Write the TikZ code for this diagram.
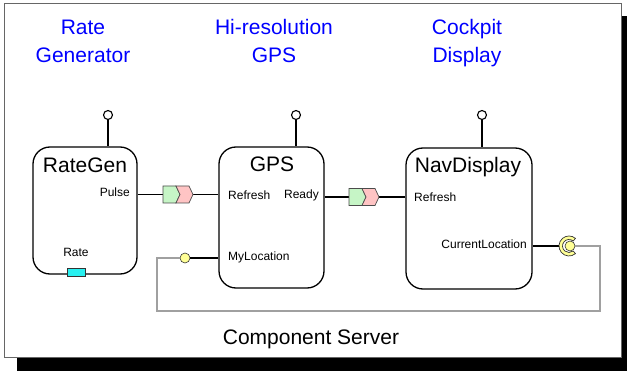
\documentclass[tikz,border=0pt]{standalone}
\usepackage{fontspec}
\setmainfont{Liberation Sans}
\usetikzlibrary{calc}
\definecolor{tblue}{RGB}{0,0,255}
\definecolor{chgreen}{RGB}{198,245,198}
\definecolor{chpink}{RGB}{255,196,196}
\definecolor{portcyan}{RGB}{40,240,240}
\definecolor{pyellow}{RGB}{255,255,150}
\definecolor{wiregray}{RGB}{160,160,160}
\begin{document}
\begin{tikzpicture}[x=1pt,y=-1pt,
  comp/.style={draw, line width=1.3pt, rounded corners=17pt, inner sep=0pt},
  big/.style={font=\fontsize{21}{28}\selectfont, inner sep=0pt},
  ttl/.style={big, text=tblue, align=center},
  small/.style={font=\fontsize{12}{14}\selectfont, inner sep=0pt},
  lolly/.style={circle, draw, line width=1.1pt, fill=white, minimum size=9pt, inner sep=0pt},
  ball/.style={circle, draw=black!80, line width=0.6pt, fill=pyellow, minimum size=10pt, inner sep=0pt},
  conn/.style={line width=1.3pt},
  wire/.style={line width=2.6pt, draw=wiregray},
  chev/.pic={
    \draw[fill=chgreen, draw=black!70, line width=0.7pt] (0,-8.5) -- (13,-8.5) -- (17,0) -- (13,8.5) -- (0,8.5) -- cycle;
    \draw[fill=chpink, draw=black!70, line width=0.7pt] (13,-8.5) -- (26,-8.5) -- (30,0) -- (26,8.5) -- (13,8.5) -- (17,0) -- cycle;
  }]
\useasboundingbox (0,0) rectangle (627,371);
% frame with shadow
\fill[black] (17,16) rectangle (640,380);
\draw[fill=white, draw=black!60, line width=0.9pt] (4,3) rectangle (621,357);

% titles
\node[ttl, anchor=base] (t1) at (83,63) {Rate\\Generator};
\node[ttl, anchor=base] (t2) at (274,63) {Hi-resolution\\GPS};
\node[ttl, anchor=base] (t3) at (467,63) {Cockpit\\Display};

% components
\node[comp, minimum width=104pt, minimum height=127pt] (rg) at (85,210.5) {};
\node[comp, minimum width=105pt, minimum height=141pt] (gps) at (271.5,217.5) {};
\node[comp, minimum width=126pt, minimum height=141pt] (nav) at (469,218.5) {};

\node[big, anchor=base] (rgt) at (85,173) {RateGen};
\node[big, anchor=base] (gpst) at (272,172) {GPS};
\node[big, anchor=base] (navt) at (468,173) {NavDisplay};

% lollipops
\node[lolly] (rgl) at (108,115) {};
\node[lolly] (gpsl) at (296,115) {};
\node[lolly] (navl) at (482,115) {};
\draw[conn] (rgl) -- (rgl |- rg.north);
\draw[conn] (gpsl) -- (gpsl |- gps.north);
\draw[conn] (navl) -- (navl |- nav.north);

% port labels
\node[small, anchor=base east] (pulse) at (130,197) {Pulse};
\node[small, anchor=base] (rate) at (76,257) {Rate};
\node[small, anchor=base west] (refr1) at (228,200) {Refresh};
\node[small, anchor=base east] (ready) at (319,199) {Ready};
\node[small, anchor=base west] (myloc) at (228,261) {MyLocation};
\node[small, anchor=base west] (refr2) at (414,202) {Refresh};
\node[small, anchor=base east] (curloc) at (527,249) {CurrentLocation};

% Rate port
\node[draw=black!80, line width=0.6pt, fill=portcyan, minimum width=18pt, minimum height=8pt, inner sep=0pt] (rateport) at (76,272) {};

% Pulse -> Refresh
\coordinate (c1) at (163,194.5);
\coordinate (c1e) at (193,194.5);
\draw[conn] (rg.east |- c1) -- (c1);
\draw[conn] (c1e) -- (gps.west |- c1e);
\pic at (c1) {chev};

% Ready -> Refresh
\coordinate (c2) at (349,197);
\coordinate (c2e) at (379,197);
\draw[conn] (gps.east |- c2) -- (c2);
\draw[conn] (c2e) -- (nav.west |- c2e);
\pic at (c2) {chev};

% MyLocation receptacle
\node[ball] (mlb) at (185,258) {};
\draw[conn] (mlb) -- (gps.west |- mlb);

% CurrentLocation socket
\coordinate (sc) at (569,246);
\draw[conn] (nav.east |- sc) -- ($(sc)+(-10,0)$);
\draw[fill=pyellow, draw=black!80, line width=0.7pt] ($(sc)+(50:10)$) arc[start angle=50, end angle=310, radius=10] -- ($(sc)+(310:6.5)$) arc[start angle=310, end angle=50, radius=6.5] -- cycle;
\node[ball, minimum size=10pt] (clb) at (570,246) {};

% gray wire
\draw[wire, line join=miter] (clb.east) -- (600,246) -- (600,311) -- (157,311) -- (157,258) -- (mlb.west);

\node[big, anchor=base] (cs) at (311,345) {Component Server};
\end{tikzpicture}
\end{document}
